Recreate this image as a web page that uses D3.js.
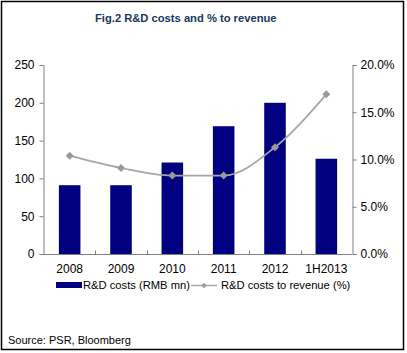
<!DOCTYPE html>
<html>
<head>
<meta charset="utf-8">
<script src="https://cdn.jsdelivr.net/npm/d3@7"></script>
<style>
  body { margin: 0; background: #fff; }
  text { font-family: Arial, "Liberation Sans", sans-serif; }
</style>
</head>
<body>
<div id="chart"></div>
<script>
// data
const years = ["2008", "2009", "2010", "2011", "2012", "1H2013"];
const rdCosts = [91, 91, 121, 169, 200, 126];          // RMB mn
const rdRatio = [10.4, 9.1, 8.3, 8.3, 11.3, 16.9];     // % of revenue
const leftTicks = [0, 50, 100, 150, 200, 250];
const rightTicks = [0, 5, 10, 15, 20];

const width = 407, height = 353;
const margin = {top: 65, right: 55, bottom: 99, left: 44};

const svg = d3.select("#chart")
    .append("svg")
    .attr("width", width)
    .attr("height", height);

// frame round the whole figure
svg.append("rect")
    .attr("x", 1.5).attr("y", 1.5)
    .attr("width", 402).attr("height", 348)
    .attr("fill", "none")
    .attr("stroke", "#000")
    .attr("stroke-width", 1.5);

svg.append("text")
    .attr("x", 95).attr("y", 22)
    .attr("font-size", "11.2px")
    .attr("font-weight", "bold")
    .attr("fill", "#17375E")
    .text("Fig.2 R&D costs and % to revenue");

const x = d3.scaleBand()
    .domain(years)
    .range([margin.left, width - margin.right])
    .paddingInner(0.58)
    .paddingOuter(0.29);

const y = d3.scaleLinear()
    .domain([0, 250])
    .range([height - margin.bottom, margin.top]);

const y2 = d3.scaleLinear()
    .domain([0, 20])
    .range([height - margin.bottom, margin.top]);

// bars
svg.selectAll(".bar")
    .data(years)
    .join("rect")
    .attr("class", "bar")
    .attr("x", d => x(d))
    .attr("width", x.bandwidth())
    .attr("y", (d, i) => y(rdCosts[i]))
    .attr("height", (d, i) => y(0) - y(rdCosts[i]))
    .attr("fill", "#000080");

// axes
const axisColor = "#808080";

const xAxis = svg.append("g")
    .attr("transform", `translate(0,${y(0) + 0.5})`);
xAxis.append("line")
    .attr("x1", margin.left).attr("x2", width - margin.right)
    .attr("stroke", axisColor);
// category separators, small ticks pointing up
xAxis.selectAll(".sep")
    .data(years.slice(1))
    .join("line")
    .attr("x1", d => Math.round(x(d) - x.step() * x.paddingInner() / 2) + 0.5)
    .attr("x2", d => Math.round(x(d) - x.step() * x.paddingInner() / 2) + 0.5)
    .attr("y1", 0).attr("y2", -4)
    .attr("stroke", axisColor);
xAxis.selectAll(".lbl")
    .data(years)
    .join("text")
    .attr("x", d => x(d) + x.bandwidth() / 2)
    .attr("y", 18)
    .attr("text-anchor", "middle")
    .attr("font-size", "12px")
    .attr("fill", "#000")
    .text(d => d);

const yAxis = svg.append("g")
    .attr("transform", `translate(${margin.left - 0.5},0)`)
    .call(d3.axisLeft(y).tickValues(leftTicks).tickSize(4).tickPadding(5));

const yAxis2 = svg.append("g")
    .attr("transform", `translate(${width - margin.right + 0.5},0)`)
    .call(d3.axisRight(y2).tickValues(rightTicks).tickSize(4).tickPadding(4)
        .tickFormat(d => d.toFixed(1) + "%"));

for (const g of [yAxis, yAxis2]) {
    g.select(".domain").attr("stroke", axisColor);
    g.selectAll(".tick line").attr("stroke", axisColor);
    g.selectAll(".tick text")
        .attr("font-size", "12px")
        .attr("font-family", "Arial, 'Liberation Sans', sans-serif")
        .attr("fill", "#000");
}

// ratio line
const line = d3.line()
    .x((d, i) => x(years[i]) + x.bandwidth() / 2)
    .y(d => y2(d))
    .curve(d3.curveMonotoneX);

svg.append("path")
    .datum(rdRatio)
    .attr("d", line)
    .attr("fill", "none")
    .attr("stroke", "#a6a6a6")
    .attr("stroke-width", 1.75);

const diamond = d3.symbol().type(d3.symbolDiamond2).size(40);
svg.selectAll(".pt")
    .data(rdRatio)
    .join("path")
    .attr("class", "pt")
    .attr("d", diamond)
    .attr("transform", (d, i) => `translate(${x(years[i]) + x.bandwidth() / 2},${y2(d)})`)
    .attr("fill", "#999");

// legend
const legend = svg.append("g").attr("font-size", "11.2px");
legend.append("rect")
    .attr("x", 56).attr("y", 282)
    .attr("width", 26).attr("height", 6)
    .attr("fill", "#000080");
legend.append("text")
    .attr("x", 83).attr("y", 289)
    .text("R&D costs (RMB mn)");
legend.append("line")
    .attr("x1", 191).attr("x2", 217)
    .attr("y1", 285.5).attr("y2", 285.5)
    .attr("stroke", "#a6a6a6")
    .attr("stroke-width", 1.5);
legend.append("path")
    .attr("d", d3.symbol().type(d3.symbolDiamond2).size(20))
    .attr("transform", "translate(204,285.5)")
    .attr("fill", "#999");
legend.append("text")
    .attr("x", 221).attr("y", 289)
    .text("R&D costs to revenue (%)");

svg.append("text")
    .attr("x", 8).attr("y", 344)
    .attr("font-size", "11px")
    .text("Source: PSR, Bloomberg");
</script>
</body>
</html>
